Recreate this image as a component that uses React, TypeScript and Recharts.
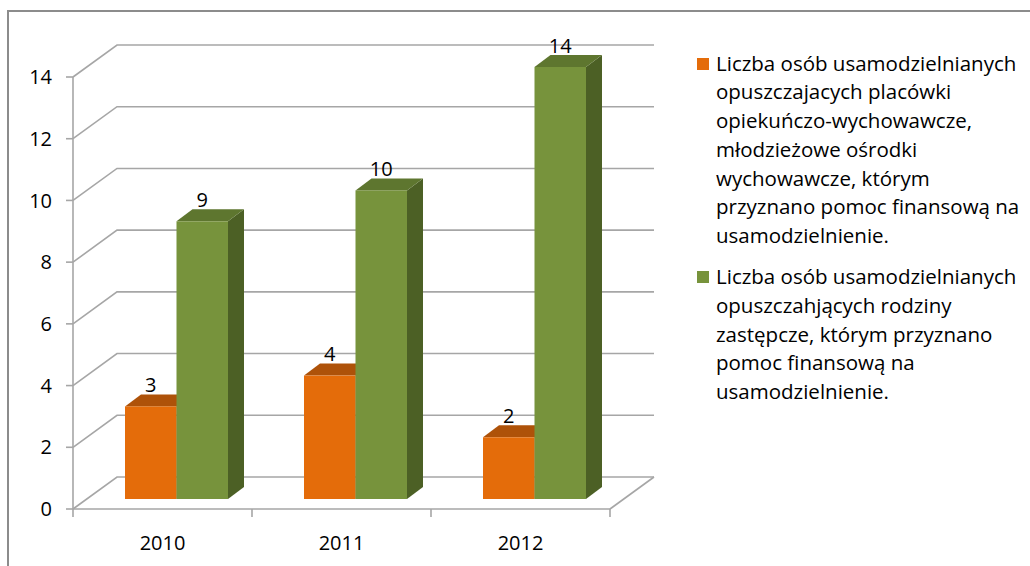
import React from 'react';
import { BarChart, Bar, XAxis, YAxis, CartesianGrid, LabelList, Legend } from 'recharts';

// ---------- data ----------
const years = ['2010', '2011', '2012'];
const placowkiValues = [3, 4, 2];
const rodzinyValues = [9, 10, 14];
const yTicks = [0, 2, 4, 6, 8, 10, 12, 14];
const placowkiLines = [
  'Liczba osób usamodzielnianych',
  'opuszczajacych placówki',
  'opiekuńczo-wychowawcze,',
  'młodzieżowe ośrodki',
  'wychowawcze, którym',
  'przyznano pomoc finansową na',
  'usamodzielnienie.',
];
const rodzinyLines = [
  'Liczba osób usamodzielnianych',
  'opuszczahjących rodziny',
  'zastępcze, którym przyznano',
  'pomoc finansową na',
  'usamodzielnienie.',
];
const seriesOrder = ['placowki', 'rodziny'];

const data = years.map((year, i) => ({
  year,
  placowki: placowkiValues[i],
  rodziny: rodzinyValues[i],
}));

const legendLines: Record<string, string[]> = {
  placowki: placowkiLines,
  rodziny: rodzinyLines,
};

// ---------- styling / layout ----------
const W = 1030;
const H = 566;
const MARGIN = { top: 77, right: 420, bottom: 0, left: 0 };
const Y_AXIS_W = 73;
const X_AXIS_H = H - 509 - MARGIN.bottom;
const FONT = '"Open Sans", "DejaVu Sans", sans-serif';
const AXIS_FS = 20;
const LEGEND_FS = 20.5;
const GRID = '#A6A6A6';

const WALL_DX = 44;
const WALL_DY = -32;
const BAR_DX = 14;
const BAR_DY = -10;
const DEPTH_DX = 16;
const DEPTH_DY = -12;

const ORANGE = { front: '#E46C0A', top: '#AE5209', side: '#9A4808' };
const GREEN = { front: '#77933C', top: '#5E762F', side: '#4C6025' };

const PLOT_W = W - MARGIN.left - MARGIN.right - Y_AXIS_W;
const HALF_BAND = PLOT_W / years.length / 2;

const makeShape = (c: { front: string; top: string; side: string }) => (props: any) => {
  const { x, y, width, height } = props;
  if (width == null || height == null) return null;
  const fx = x + BAR_DX;
  const fy = y + BAR_DY;
  const w = width;
  const h = height;
  return (
    <g>
      <polygon
        points={`${fx + w},${fy} ${fx + w + DEPTH_DX},${fy + DEPTH_DY} ${fx + w + DEPTH_DX},${fy + h + DEPTH_DY} ${fx + w},${fy + h}`}
        fill={c.side}
      />
      <polygon
        points={`${fx},${fy} ${fx + DEPTH_DX},${fy + DEPTH_DY} ${fx + w + DEPTH_DX},${fy + DEPTH_DY} ${fx + w},${fy}`}
        fill={c.top}
      />
      <rect x={fx} y={fy} width={w} height={h} fill={c.front} />
    </g>
  );
};

const gridLine = (props: any) => {
  const { x1, y1, x2, key } = props;
  return (
    <path
      key={key}
      d={`M${x1},${y1} L${x1 + WALL_DX},${y1 + WALL_DY} L${x2 + WALL_DX},${y1 + WALL_DY}`}
      stroke={GRID}
      strokeWidth={1.6}
      fill="none"
    />
  );
};

const XTick = (props: any) => {
  const { x, y, payload, index } = props;
  const axisY = y - 8;
  const last = index === years.length - 1;
  return (
    <g>
      <line x1={x - HALF_BAND} y1={axisY} x2={x - HALF_BAND} y2={axisY + 8} stroke={GRID} strokeWidth={1.6} />
      {last && (
        <>
          <line x1={x + HALF_BAND} y1={axisY} x2={x + HALF_BAND} y2={axisY + 8} stroke={GRID} strokeWidth={1.6} />
          <line
            x1={x + HALF_BAND}
            y1={axisY}
            x2={x + HALF_BAND + WALL_DX}
            y2={axisY + WALL_DY}
            stroke={GRID}
            strokeWidth={1.6}
          />
        </>
      )}
      <text
        x={x}
        y={axisY + 33}
        textAnchor="middle"
        dominantBaseline="central"
        fontFamily={FONT}
        fontSize={AXIS_FS}
        fill="#000"
      >
        {payload.value}
      </text>
    </g>
  );
};

const BarLabel = (props: any) => {
  const { x, y, width, value } = props;
  return (
    <text
      x={x + BAR_DX + width / 2}
      y={y + BAR_DY - 22}
      textAnchor="middle"
      dominantBaseline="central"
      fontFamily={FONT}
      fontSize={AXIS_FS}
      fill="#000"
    >
      {value}
    </text>
  );
};

const LegendContent = (props: any) => {
  const payload = [...(props.payload || [])].sort(
    (a: any, b: any) => seriesOrder.indexOf(a.dataKey) - seriesOrder.indexOf(b.dataKey),
  );
  return (
    <div style={{ fontFamily: FONT, fontSize: LEGEND_FS, lineHeight: '28.8px', color: '#000' }}>
      {payload.map((entry: any, i: number) => (
        <div key={i} style={{ position: 'relative', paddingLeft: 26, marginBottom: 12 }}>
          <span
            style={{
              position: 'absolute',
              left: 7,
              top: 9,
              width: 12,
              height: 12,
              background: entry.color,
            }}
          />
          {(legendLines[entry.dataKey] || [String(entry.value)]).map((line: string, j: number) => (
            <div key={j} style={{ whiteSpace: 'nowrap' }}>
              {line}
            </div>
          ))}
        </div>
      ))}
    </div>
  );
};

export default function App() {
  return (
    <div
      style={{
        position: 'absolute',
        left: 0,
        top: 0,
        width: W,
        height: H,
        overflow: 'hidden',
        background: '#fff',
      }}
    >
      <div
        style={{
          position: 'absolute',
          left: 7,
          top: 10,
          width: 1200,
          height: 800,
          borderTop: '2px solid #8C8C8C',
          borderLeft: '2px solid #8C8C8C',
        }}
      />
      <div style={{ position: 'absolute', left: 0, top: 0 }}>
        <BarChart width={W} height={H} data={data} margin={MARGIN} barGap={0} barSize={51.5}>
          <CartesianGrid vertical={false} horizontal={gridLine} />
          <XAxis
            dataKey="year"
            height={X_AXIS_H}
            axisLine={{ stroke: GRID, strokeWidth: 1.6 }}
            tickLine={false}
            tickSize={8}
            tickMargin={0}
            tick={<XTick />}
            interval={0}
          />
          <YAxis
            width={Y_AXIS_W}
            domain={[0, 14]}
            ticks={yTicks}
            interval={0}
            axisLine={{ stroke: GRID, strokeWidth: 1.6 }}
            tickLine={{ stroke: GRID, strokeWidth: 1.6 }}
            tickSize={7}
            tickMargin={14}
            tick={{ fontFamily: FONT, fontSize: AXIS_FS, fill: '#000' }}
          />
          <Legend
            layout="vertical"
            align="center"
            verticalAlign="middle"
            wrapperStyle={{ left: 690, top: 48.5, width: 340 }}
            content={<LegendContent />}
          />
          <Bar
            dataKey="placowki"
            name={placowkiLines.join(' ')}
            fill={ORANGE.front}
            shape={makeShape(ORANGE)}
            isAnimationActive={false}
          >
            <LabelList dataKey="placowki" content={<BarLabel />} />
          </Bar>
          <Bar
            dataKey="rodziny"
            name={rodzinyLines.join(' ')}
            fill={GREEN.front}
            shape={makeShape(GREEN)}
            isAnimationActive={false}
          >
            <LabelList dataKey="rodziny" content={<BarLabel />} />
          </Bar>
        </BarChart>
      </div>
    </div>
  );
}
